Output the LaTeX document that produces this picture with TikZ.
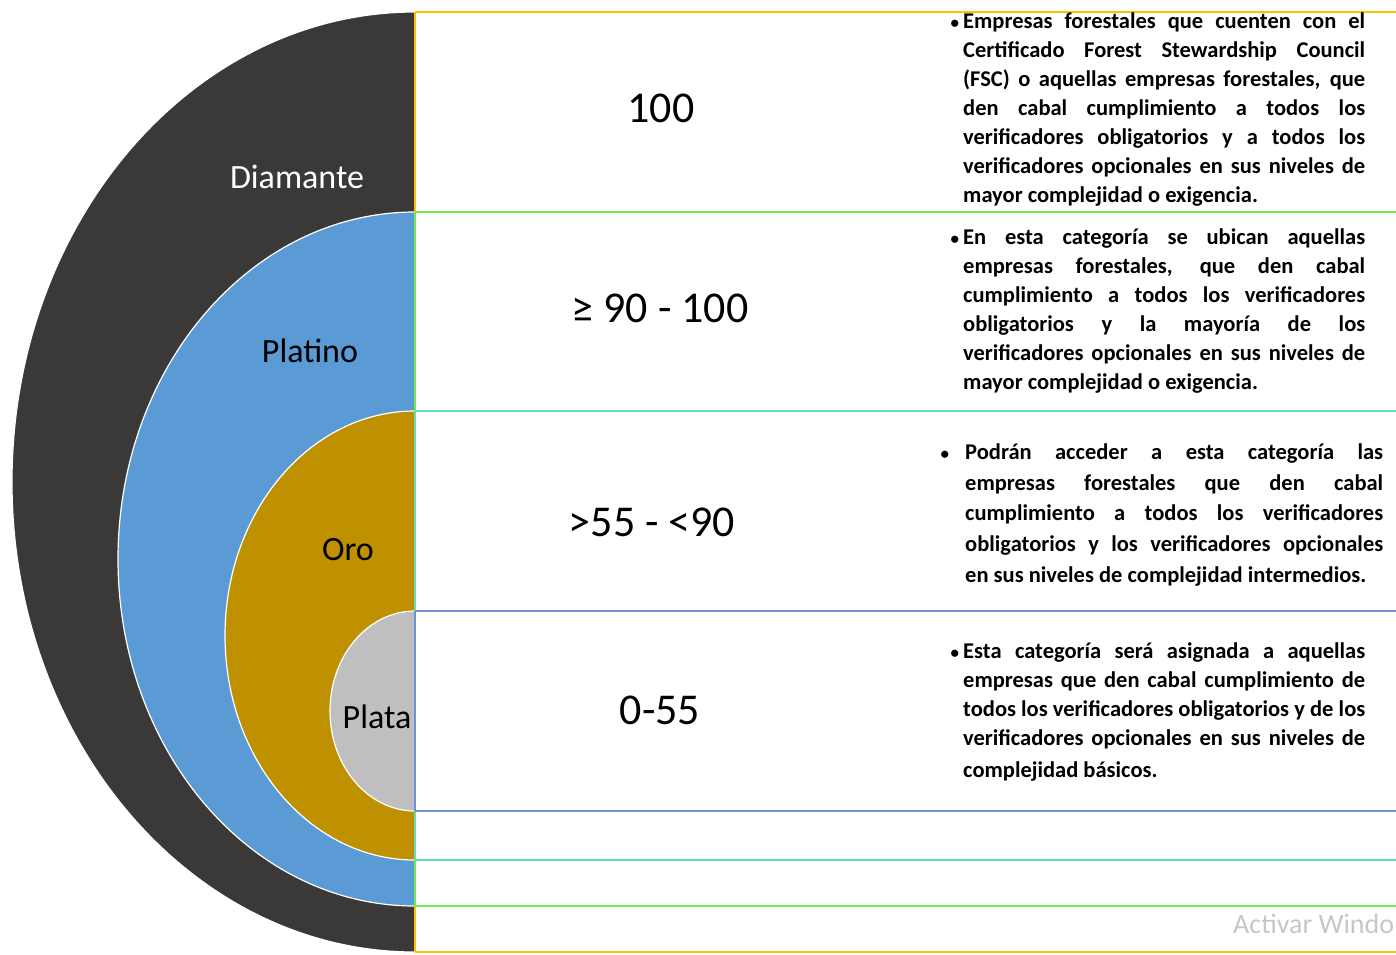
\documentclass[tikz,border=0pt]{standalone}
\usepackage{fontspec}
\setmainfont{Carlito}
\definecolor{cDia}{HTML}{3A3937}
\definecolor{cPla}{HTML}{5B9BD5}
\definecolor{cOro}{HTML}{BF9000}
\definecolor{cPlt}{HTML}{BFBFBF}
\definecolor{lOr}{HTML}{FFC000}
\definecolor{lGr}{HTML}{72E84E}
\definecolor{lTe}{HTML}{66DDB4}
\definecolor{lBl}{HTML}{6F92D6}
\newcommand{\jA}[1]{\makebox[402pt][s]{#1}}
\newcommand{\jB}[1]{\makebox[418pt][s]{#1}}
\newcommand{\bul}[1]{\llap{{\fontsize{17}{17}\selectfont •}\hspace{#1}}}
\begin{document}
\begin{tikzpicture}[x=1pt,y=1pt,
  ring/.style={draw=white,line width=1.2pt},
  sep/.style={line width=2pt},
  lab/.style={inner sep=0pt,font=\fontsize{34}{40}\selectfont},
  num/.style={inner sep=0pt,font=\fontsize{44}{52}\selectfont},
  desc/.style={inner sep=0pt,anchor=north west,align=left,font=\bfseries\fontsize{22.5}{29}\selectfont},
  wm/.style={inner sep=0pt,anchor=base west,text=black!22,font=\fontsize{28}{34}\selectfont}]
\useasboundingbox (0,0) rectangle (1396,-954);
\fill[white] (0,0) rectangle (1396,-954);
% rings
\fill[cDia,ring] (415,-12) arc[start angle=90,end angle=270,x radius=403,y radius=470] -- cycle;
\fill[cPla,ring] (415,-212) arc[start angle=90,end angle=270,x radius=297,y radius=347] -- cycle;
\fill[cOro,ring] (415,-411) arc[start angle=90,end angle=270,x radius=190,y radius=224.5] -- cycle;
\fill[cPlt,ring] (415,-611) arc[start angle=90,end angle=270,x radius=85,y radius=100] -- cycle;
% vertical segments
\draw[sep,lOr] (415,-12) -- (415,-212);
\draw[sep,lGr] (415,-212) -- (415,-411);
\draw[sep,lTe] (415,-411) -- (415,-611);
\draw[sep,lBl] (415,-611) -- (415,-811);
\draw[sep,lTe] (415,-811) -- (415,-860);
\draw[sep,lGr] (415,-860) -- (415,-906);
\draw[sep,lOr] (415,-906) -- (415,-952);
% horizontal lines
\draw[sep,lOr] (415,-12) -- (1396,-12);
\draw[sep,lGr] (415,-212) -- (1396,-212);
\draw[sep,lTe] (415,-411) -- (1396,-411);
\draw[sep,lBl] (415,-611) -- (1396,-611);
\draw[sep,lBl] (415,-811) -- (1396,-811);
\draw[sep,lTe] (415,-860) -- (1396,-860);
\draw[sep,lGr] (415,-906) -- (1396,-906);
\draw[sep,lOr] (415,-952) -- (1396,-952);
% labels
\node[lab,text=white] (dia) at (297,-177) {Diamante};
\node[lab] (pla) at (310,-351) {Platino};
\node[lab] (oro) at (348,-550) {Oro};
\node[lab] (plt) at (377,-717) {Plata};
% numbers
\node[num] (n1) at (661,-108) {100};
\node[num] (n2) at (660,-308) {≥ 90 - 100};
\node[num] (n3) at (652,-522) {>55 - <90};
\node[num] (n4) at (660,-710) {0-55};
% descriptions
\node[desc] (d1) at (963,-8) {%
\jA{\rule{0pt}{20pt}\bul{4pt}Empresas forestales que cuenten con el}\\
\jA{Certificado Forest Stewardship Council}\\
\jA{(FSC) o aquellas empresas forestales, que}\\
\jA{den cabal cumplimiento a todos los}\\
\jA{verificadores obligatorios y a todos los}\\
\jA{verificadores opcionales en sus niveles de}\\
mayor complejidad o exigencia.};
\node[desc] (d2) at (963,-224) {%
\jA{\rule{0pt}{20pt}\bul{4pt}En esta categoría se ubican aquellas}\\
\jA{empresas forestales, que den cabal}\\
\jA{cumplimiento a todos los verificadores}\\
\jA{obligatorios y la mayoría de los}\\
\jA{verificadores opcionales en sus niveles de}\\
mayor complejidad o exigencia.};
\node[desc,font=\bfseries\fontsize{22.5}{30.8}\selectfont] (d3) at (965,-439) {%
\jB{\rule{0pt}{20pt}\bul{16pt}Podrán acceder a esta categoría las}\\
\jB{empresas forestales que den cabal}\\
\jB{cumplimiento a todos los verificadores}\\
\jB{obligatorios y los verificadores opcionales}\\
en sus niveles de complejidad intermedios.};
\node[desc] (d4) at (963,-638) {%
\jA{\rule{0pt}{20pt}\bul{4pt}Esta categoría será asignada a aquellas}\\
\jA{empresas que den cabal cumplimiento de}\\
\jA{todos los verificadores obligatorios y de los}\\
\jA{verificadores opcionales en sus niveles de}\\[3pt]
complejidad básicos.};
% watermark
\node[wm] (wm) at (1233,-933) {Activar Windo};
\end{tikzpicture}
\end{document}
